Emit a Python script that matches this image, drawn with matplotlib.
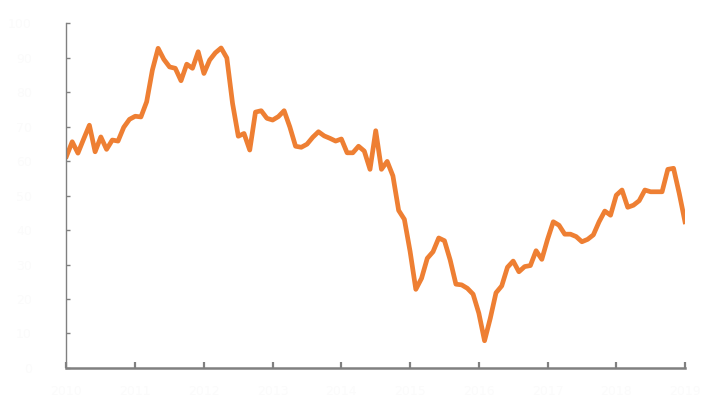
import numpy as np
import matplotlib.pyplot as plt

# monthly series, 9 years (109 points)
values = [
    6.14, 6.56, 6.23, 6.64, 7.04, 6.27, 6.70, 6.34, 6.61, 6.58, 6.98, 7.21,
    7.30, 7.28, 7.72, 8.64, 9.27, 8.95, 8.73, 8.69, 8.33, 8.81, 8.69, 9.17,
    8.54, 8.93, 9.14, 9.28, 8.99, 7.67, 6.72, 6.80, 6.32, 7.42, 7.46, 7.24,
    7.19, 7.29, 7.46, 6.99, 6.43, 6.40, 6.49, 6.69, 6.85, 6.73, 6.66, 6.58,
    6.64, 6.24, 6.24, 6.43, 6.29, 5.76, 6.88, 5.76, 5.99, 5.57, 4.57, 4.31,
    3.38, 2.28, 2.60, 3.18, 3.37, 3.77, 3.69, 3.13, 2.43, 2.41, 2.31, 2.14,
    1.59, 0.79, 1.44, 2.18, 2.38, 2.92, 3.10, 2.79, 2.94, 2.97, 3.40, 3.15,
    3.73, 4.24, 4.14, 3.88, 3.88, 3.81, 3.66, 3.73, 3.86, 4.24, 4.55, 4.43,
    5.01, 5.16, 4.66, 4.72, 4.85, 5.16, 5.11, 5.11, 5.11, 5.76, 5.79, 5.06,
    4.24,
]
x_ticks = list(range(0, 109, 12))
x_labels = [str(2010 + i) for i in range(len(x_ticks))]
y_ticks = list(range(0, 11))
y_labels = [str(v * 10) for v in y_ticks]

fig = plt.figure(figsize=(7.08, 4.13), dpi=100)
ax = fig.add_axes([0.0939, 0.109, 0.8736, 0.835])

ax.plot(np.arange(len(values)), values, color="#EE7F33", lw=3.4)

ax.set_xlim(0, 108)
ax.set_ylim(0, 10)
ax.set_xticks(x_ticks)
ax.set_xticklabels(x_labels)
ax.set_yticks(y_ticks)
ax.set_yticklabels(y_labels)

for s in ["top", "right"]:
    ax.spines[s].set_visible(False)
ax.spines["left"].set_color("#808080")
ax.spines["left"].set_linewidth(1.0)
ax.spines["bottom"].set_color("#808080")
ax.spines["bottom"].set_linewidth(1.8)
ax.tick_params(axis="y", direction="in", length=3, width=1.0, color="#808080",
               labelcolor="#fbfbfb", labelsize=9, pad=25)
ax.tick_params(axis="x", direction="in", length=4, width=1.6, color="#808080",
               labelcolor="#fbfbfb", labelsize=9, pad=12)

fig.savefig("out.png", dpi=100)
